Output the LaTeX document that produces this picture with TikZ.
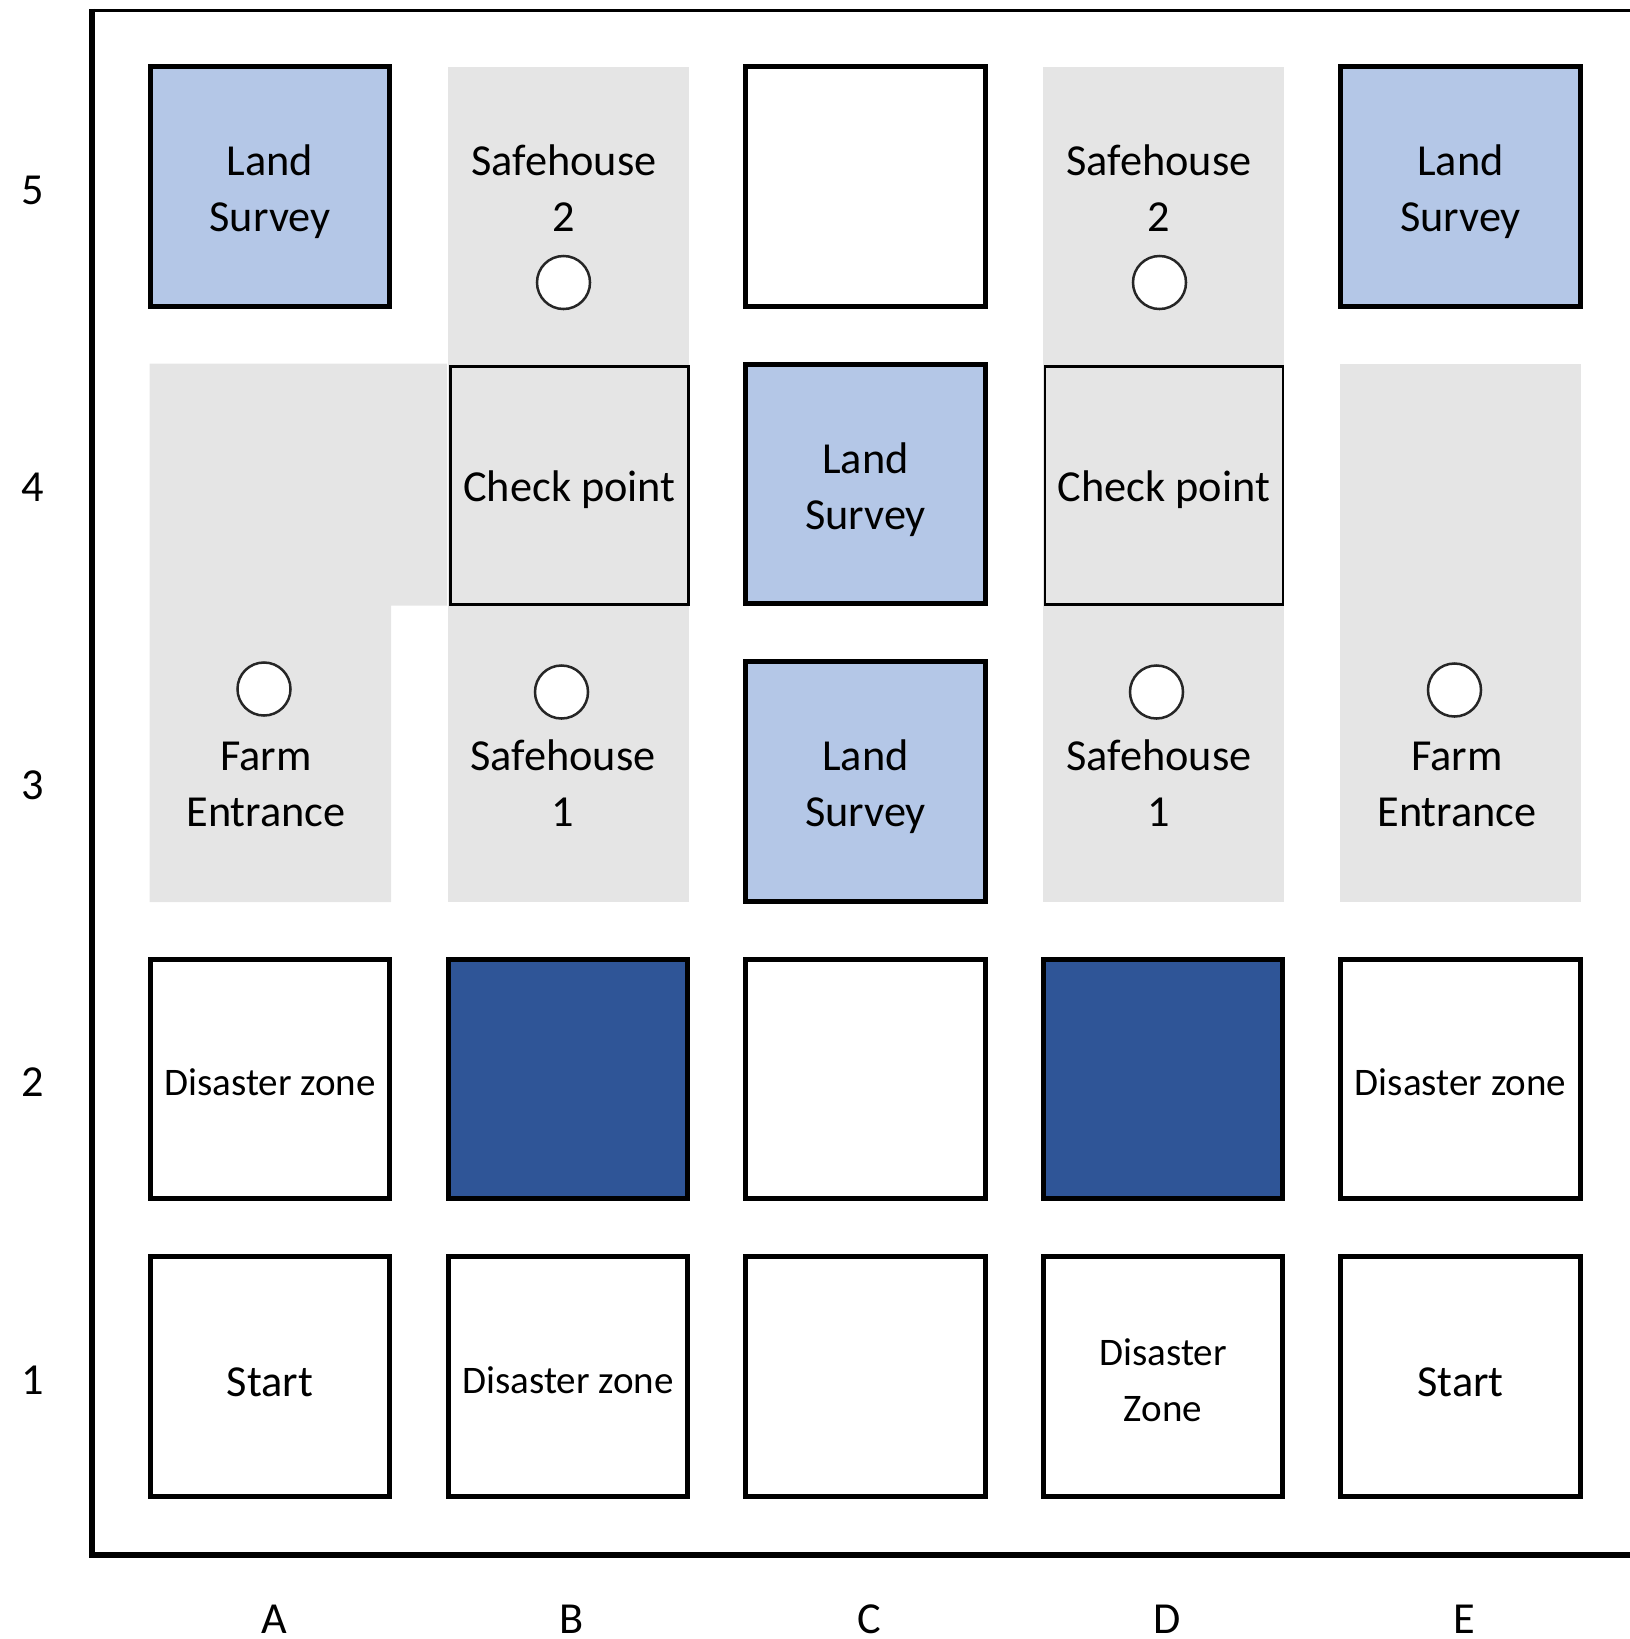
\documentclass[tikz,border=0pt]{standalone}
\usepackage{fontspec}
\setmainfont{Carlito}
\definecolor{surveyblue}{HTML}{B4C7E7}
\definecolor{blockblue}{HTML}{2F5597}
\definecolor{zonegrey}{HTML}{E5E5E5}
\newcommand\gridfontbig{\fontsize{12.6}{15.9}\selectfont}
\newcommand\gridfontsmall{\fontsize{11.1}{15.9}\selectfont}
\tikzset{
  cellbox/.style={draw=black, line width=0.05cm, minimum size=2.39cm, inner sep=0pt,
                  align=center, font=\gridfontbig, text depth=0pt, text height=25.8pt},
  surveycell/.style={cellbox, fill=surveyblue},
  blockcell/.style={cellbox, fill=blockblue},
  plaincell/.style={cellbox, fill=white},
  smalltext/.style={font=\gridfontsmall, text height=9.4pt},
  smalltwoline/.style={font=\gridfontsmall, text height=25.3pt},
  starttext/.style={text height=11.6pt},
  checkcell/.style={draw=black, line width=0.025cm, minimum size=2.38cm, inner sep=0pt,
                  align=center, font=\gridfontbig, text depth=0pt, text height=9pt},
  zonecell/.style={minimum size=2.38cm, inner sep=0pt, align=center, font=\gridfontbig,
                  text depth=0pt, text height=25.8pt},
  marker/.style={circle, draw=black!85, fill=white, line width=0.025cm, minimum size=0.53cm, inner sep=0pt},
  axislabel/.style={anchor=base, font=\gridfontbig, inner sep=0pt},
}
\begin{document}
\begin{tikzpicture}[x=0.01cm, y=-0.01cm]
\useasboundingbox (0,0) rectangle (1630,1639);
% grey zones
\fill[zonegrey] (149.5,363.5) -- (447,363.5) -- (447,605.5) -- (391,605.5) -- (391,902) -- (149.5,902) -- cycle;
\fill[zonegrey] (447.5,66.5) rectangle (688.5,902);
\fill[zonegrey] (1042.5,66.5) rectangle (1283.5,902);
\fill[zonegrey] (1340,363.5) rectangle (1581,902);
% frame
\draw[line width=0.035cm] (89.25,10.5) -- (1630,10.5);
\draw[line width=0.055cm] (92,8.75) -- (92,1555) -- (1630,1555);

% row 5
\node[surveycell] (A5) at (270,186.5) {Land\\Survey};
\node[zonecell] (B5) at (564,186.5) {Safehouse\\2};
\node[marker] (B5m) at (563.5,282.5) {};
\node[plaincell] (C5) at (865.5,186.5) {};
\node[zonecell] (D5) at (1159,186.5) {Safehouse\\2};
\node[marker] (D5m) at (1159.5,282.5) {};
\node[surveycell] (E5) at (1460.5,186.5) {Land\\Survey};

% row 4
\node[zonecell] (A4) at (270,484) {};
\node[checkcell] (B4) at (569.5,485.5) {Check point};
\node[surveycell] (C4) at (865.5,484) {Land\\Survey};
\node[checkcell] (D4) at (1164,485.5) {Check point};
\node[zonecell] (E4) at (1460.5,484) {};

% row 3
\node[zonecell] (A3) at (266,781.5) {Farm\\Entrance};
\node[marker] (A3m) at (264,689) {};
\node[zonecell] (B3) at (563,781.5) {Safehouse\\1};
\node[marker] (B3m) at (561.5,692) {};
\node[surveycell] (C3) at (865.5,781.5) {Land\\Survey};
\node[zonecell] (D3) at (1159,781.5) {Safehouse\\1};
\node[marker] (D3m) at (1156.5,692) {};
\node[zonecell] (E3) at (1457,781.5) {Farm\\Entrance};
\node[marker] (E3m) at (1454.5,690) {};

% row 2
\node[plaincell, smalltext] (A2) at (270,1079) {Disaster zone};
\node[blockcell] (B2) at (568,1079) {};
\node[plaincell] (C2) at (865.5,1079) {};
\node[blockcell] (D2) at (1163,1079) {};
\node[plaincell, smalltext] (E2) at (1460.5,1079) {Disaster zone};

% row 1
\node[plaincell, starttext] (A1) at (270,1376.5) {Start};
\node[plaincell, smalltext] (B1) at (568,1376.5) {Disaster zone};
\node[plaincell] (C1) at (865.5,1376.5) {};
\node[plaincell, smalltwoline] (D1) at (1163,1376.5) {Disaster\\Zone};
\node[plaincell, starttext] (E1) at (1460.5,1376.5) {Start};

% row labels
\node[axislabel] (r5) at (33,204) {5};
\node[axislabel] (r4) at (33,501.5) {4};
\node[axislabel] (r3) at (33,799) {3};
\node[axislabel] (r2) at (33,1096.5) {2};
\node[axislabel] (r1) at (33,1394) {1};

% column labels
\node[axislabel] (cA) at (274,1633) {A};
\node[axislabel] (cB) at (572,1633) {B};
\node[axislabel] (cC) at (869.5,1633) {C};
\node[axislabel] (cD) at (1167,1633) {D};
\node[axislabel] (cE) at (1464.5,1633) {E};
\end{tikzpicture}
\end{document}
